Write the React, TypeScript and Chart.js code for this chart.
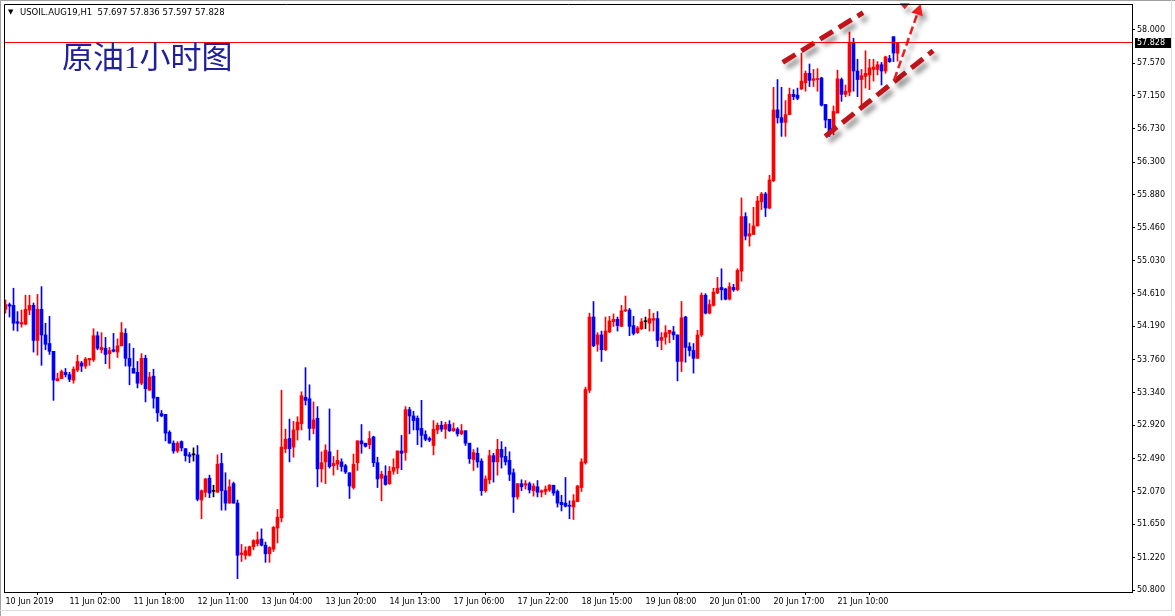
import React, { useEffect, useRef } from "react";
import { Chart, registerables } from "chart.js";
Chart.register(...registerables);

// ---- data (hourly candles USOIL.AUG19, H1) ----
const opens = [
  54.41, 54.47, 54.46, 54.25, 54.22, 54.22, 54.40, 54.46, 54.01, 54.41, 54.08, 53.97, 53.87, 53.49, 53.52, 53.60,
  53.57, 53.50, 53.63, 53.72, 53.68, 53.76, 53.76, 54.07, 53.89, 53.91, 53.84, 53.89, 53.86, 53.94, 54.10, 53.78,
  53.65, 53.60, 53.46, 53.78, 53.37, 53.55, 53.28, 53.07, 53.06, 52.83, 52.69, 52.59, 52.71, 52.62, 52.54, 52.54,
  52.54, 51.96, 52.06, 52.24, 52.07, 52.06, 52.43, 52.08, 51.92, 52.17, 51.92, 51.26, 51.25, 51.25, 51.36, 51.40,
  51.46, 51.38, 51.27, 51.33, 51.60, 51.73, 52.62, 52.75, 52.64, 52.86, 52.94, 53.28, 53.26, 52.88, 53.01, 52.36,
  52.45, 52.58, 52.40, 52.42, 52.45, 52.40, 52.31, 52.12, 52.44, 52.72, 52.69, 52.67, 52.77, 52.44, 52.24, 52.27,
  52.17, 52.33, 52.37, 52.59, 52.57, 53.12, 53.04, 53.01, 52.88, 52.80, 52.75, 52.66, 52.86, 52.92, 52.87, 52.93,
  52.85, 52.87, 52.81, 52.85, 52.69, 52.48, 52.56, 52.46, 52.08, 52.22, 52.53, 52.45, 52.61, 52.52, 52.47, 52.31,
  52.00, 52.17, 52.15, 52.17, 52.08, 52.13, 52.06, 52.07, 52.09, 52.15, 52.07, 51.93, 51.92, 51.89, 51.87, 51.94,
  52.12, 52.44, 53.37, 54.31, 53.96, 54.08, 53.89, 54.12, 54.25, 54.28, 54.19, 54.39, 54.40, 54.20, 54.11, 54.16,
  54.25, 54.23, 54.27, 54.29, 54.01, 54.05, 54.10, 54.12, 54.08, 53.74, 54.31, 53.93, 53.88, 53.78, 54.08, 54.59,
  54.36, 54.46, 54.62, 54.69, 54.67, 54.54, 54.69, 54.66, 54.90, 55.60, 55.35, 55.37, 55.48, 55.79, 55.89, 55.71,
  56.06, 56.97, 56.87, 56.81, 56.91, 57.17, 57.16, 57.24, 57.32, 57.44, 57.35, 57.36, 57.38, 57.04, 56.85, 56.69,
  56.93, 57.36, 57.17, 57.20, 57.84, 57.47, 57.36, 57.40, 57.42, 57.49, 57.49, 57.55, 57.47, 57.63, 57.91, 57.697,
];
const highs = [
  54.53, 54.49, 54.68, 54.38, 54.40, 54.59, 54.59, 54.49, 54.60, 54.70, 54.23, 54.32, 53.87, 53.59, 53.63, 53.65,
  53.60, 53.67, 53.82, 53.74, 53.79, 53.78, 54.16, 54.12, 54.11, 54.05, 53.92, 54.10, 54.03, 54.24, 54.16, 53.97,
  53.91, 53.74, 53.84, 53.82, 53.60, 53.64, 53.28, 53.11, 53.06, 52.85, 52.72, 52.71, 52.72, 52.62, 52.57, 52.63,
  52.66, 52.09, 52.24, 52.28, 52.15, 52.54, 52.56, 52.31, 52.22, 52.19, 51.96, 51.39, 51.36, 51.37, 51.45, 51.55,
  51.59, 51.42, 51.36, 51.62, 51.84, 53.37, 52.87, 53.00, 52.97, 53.03, 53.35, 53.66, 53.44, 53.22, 53.16, 52.58,
  52.67, 53.13, 52.52, 52.60, 52.49, 52.42, 52.31, 52.55, 52.72, 52.93, 52.69, 52.84, 52.78, 52.51, 52.33, 52.40,
  52.39, 52.49, 52.59, 52.79, 53.16, 53.15, 53.10, 53.04, 53.24, 52.85, 52.77, 52.98, 52.95, 52.97, 52.96, 52.98,
  52.95, 52.89, 52.93, 52.85, 52.69, 52.61, 52.63, 52.49, 52.27, 52.60, 52.56, 52.74, 52.71, 52.64, 52.58, 52.36,
  52.17, 52.22, 52.21, 52.19, 52.17, 52.21, 52.09, 52.14, 52.16, 52.15, 52.09, 52.02, 52.25, 51.95, 52.03, 52.15,
  52.49, 53.41, 54.36, 54.51, 54.11, 54.13, 54.31, 54.32, 54.35, 54.31, 54.46, 54.58, 54.42, 54.32, 54.19, 54.29,
  54.31, 54.41, 54.36, 54.38, 54.11, 54.20, 54.14, 54.19, 54.08, 54.51, 54.32, 53.98, 53.97, 54.14, 54.62, 54.61,
  54.53, 54.68, 54.82, 54.93, 54.68, 54.75, 54.73, 54.93, 55.84, 55.65, 55.51, 55.72, 55.86, 55.91, 55.91, 56.13,
  57.26, 57.36, 57.26, 57.09, 57.25, 57.23, 57.25, 57.70, 57.47, 57.56, 57.49, 57.50, 57.39, 57.04, 56.85, 57.02,
  57.48, 57.38, 57.29, 57.97, 57.89, 57.62, 57.49, 57.73, 57.62, 57.62, 57.59, 57.58, 57.66, 57.67, 57.91, 57.836,
];
const lows = [
  54.36, 54.31, 54.14, 54.13, 54.18, 54.21, 54.34, 53.86, 53.82, 53.69, 53.89, 53.83, 53.24, 53.49, 53.52, 53.54,
  53.48, 53.46, 53.61, 53.61, 53.65, 53.69, 53.74, 53.89, 53.85, 53.71, 53.65, 53.86, 53.79, 53.94, 53.68, 53.44,
  53.59, 53.40, 53.44, 53.22, 53.37, 53.14, 52.97, 53.03, 52.72, 52.69, 52.56, 52.57, 52.59, 52.46, 52.44, 52.46,
  51.95, 51.72, 52.00, 51.99, 52.00, 52.06, 51.83, 51.83, 51.92, 51.92, 50.95, 51.17, 51.20, 51.24, 51.32, 51.37,
  51.37, 51.16, 51.16, 51.30, 51.41, 51.68, 52.57, 52.45, 52.51, 52.73, 52.86, 53.18, 52.73, 52.81, 52.13, 52.19,
  52.17, 52.37, 52.28, 52.35, 52.33, 52.30, 51.98, 52.10, 52.34, 52.56, 52.64, 52.62, 52.39, 52.12, 51.95, 52.15,
  52.16, 52.29, 52.30, 52.35, 52.47, 52.81, 52.86, 52.67, 52.64, 52.72, 52.71, 52.54, 52.81, 52.84, 52.75, 52.84,
  52.84, 52.78, 52.80, 52.66, 52.43, 52.34, 52.38, 52.02, 52.06, 52.17, 52.19, 52.28, 52.37, 52.41, 52.21, 51.80,
  51.97, 52.08, 52.10, 52.05, 52.01, 52.00, 52.00, 52.03, 52.07, 52.02, 51.87, 51.82, 51.87, 51.72, 51.71, 51.94,
  52.07, 52.42, 53.34, 53.93, 53.87, 53.74, 53.88, 54.11, 54.19, 54.13, 54.19, 54.38, 54.07, 54.08, 54.10, 54.15,
  54.16, 54.13, 54.13, 53.93, 53.89, 53.96, 53.98, 54.02, 53.49, 53.61, 53.73, 53.81, 53.59, 53.78, 54.06, 54.35,
  54.35, 54.45, 54.61, 54.53, 54.53, 54.53, 54.64, 54.65, 54.77, 55.30, 55.22, 55.37, 55.48, 55.69, 55.60, 55.70,
  56.05, 56.80, 56.63, 56.63, 56.91, 57.10, 57.10, 57.23, 57.21, 57.27, 57.27, 57.21, 57.02, 56.74, 56.63, 56.65,
  56.93, 57.08, 57.14, 57.15, 57.21, 57.14, 57.02, 57.25, 57.23, 57.34, 57.42, 57.29, 57.44, 57.58, 57.59, 57.597,
];
const closes = [
  54.47, 54.45, 54.23, 54.23, 54.24, 54.41, 54.46, 54.01, 54.41, 54.08, 53.96, 53.87, 53.50, 53.52, 53.61, 53.57,
  53.51, 53.64, 53.74, 53.68, 53.77, 53.78, 54.07, 53.91, 53.92, 53.83, 53.88, 53.87, 53.94, 54.11, 53.78, 53.68,
  53.59, 53.46, 53.78, 53.39, 53.54, 53.27, 53.08, 53.04, 52.82, 52.69, 52.59, 52.69, 52.63, 52.53, 52.52, 52.54,
  51.97, 52.08, 52.23, 52.05, 52.07, 52.42, 52.08, 51.92, 52.13, 51.92, 51.25, 51.28, 51.31, 51.36, 51.44, 51.45,
  51.38, 51.27, 51.35, 51.61, 51.74, 52.64, 52.74, 52.62, 52.86, 52.96, 53.30, 53.24, 52.88, 52.99, 52.36, 52.44,
  52.60, 52.39, 52.43, 52.47, 52.39, 52.32, 52.14, 52.42, 52.72, 52.68, 52.65, 52.75, 52.44, 52.23, 52.29, 52.16,
  52.33, 52.38, 52.59, 52.56, 53.12, 53.04, 52.98, 52.86, 52.79, 52.74, 52.73, 52.87, 52.92, 52.87, 52.93, 52.85,
  52.88, 52.81, 52.85, 52.69, 52.49, 52.57, 52.45, 52.08, 52.23, 52.53, 52.45, 52.61, 52.51, 52.45, 52.29, 52.00,
  52.17, 52.13, 52.17, 52.09, 52.14, 52.06, 52.08, 52.10, 52.15, 52.05, 51.92, 51.90, 51.88, 51.88, 51.95, 52.14,
  52.45, 53.38, 54.31, 53.94, 54.08, 53.89, 54.13, 54.26, 54.28, 54.20, 54.39, 54.40, 54.19, 54.10, 54.17, 54.25,
  54.25, 54.29, 54.29, 54.01, 54.05, 54.11, 54.14, 54.08, 53.74, 54.30, 53.92, 53.88, 53.78, 54.08, 54.59, 54.36,
  54.47, 54.63, 54.68, 54.66, 54.54, 54.70, 54.66, 54.91, 55.60, 55.35, 55.38, 55.48, 55.80, 55.89, 55.71, 56.07,
  56.97, 56.87, 56.81, 56.91, 57.17, 57.14, 57.12, 57.34, 57.44, 57.35, 57.37, 57.37, 57.03, 56.84, 56.69, 56.95,
  57.37, 57.17, 57.21, 57.84, 57.47, 57.36, 57.41, 57.44, 57.51, 57.52, 57.55, 57.47, 57.65, 57.59, 57.70, 57.828,
];

const yTicks = [58.0, 57.57, 57.15, 56.73, 56.3, 55.88, 55.46, 55.03, 54.61, 54.19, 53.76, 53.34, 52.92, 52.49, 52.07, 51.65, 51.22, 50.8];
const xTickIndex = [0, 16, 32, 48, 64, 80, 96, 112, 128, 144, 160, 176, 192, 208];
const xTickLabels = [
  "10 Jun 2019", "11 Jun 02:00", "11 Jun 18:00", "12 Jun 11:00", "13 Jun 04:00", "13 Jun 20:00", "14 Jun 13:00",
  "17 Jun 06:00", "17 Jun 22:00", "18 Jun 15:00", "19 Jun 08:00", "20 Jun 01:00", "20 Jun 17:00", "21 Jun 10:00",
];
const currentPrice = 57.828;
const headerText = "USOIL.AUG19,H1  57.697 57.836 57.597 57.828";
const titleText = "原油1小时图";

// hand-drawn annotations (bar index, price)
const upperChannel = [{ x: 194.3, y: 57.58 }, { x: 214.4, y: 58.22 }];
const lowerChannel = [{ x: 204.9, y: 56.63 }, { x: 231.9, y: 57.73 }];
const arrowLine = [{ x: 222.2, y: 57.36 }, { x: 228.8, y: 58.33 }];
const topMarker = { x: 224.8, y: 58.3 };

const UP = "#ff0000";
const DOWN = "#0000ff";
const DOJI = "#000000";

function candleColor(i: number) {
  if (closes[i] > opens[i]) return UP;
  if (closes[i] < opens[i]) return DOWN;
  return DOJI;
}

const decorPlugin = {
  id: "decor",
  beforeDraw(chart: any) {
    const { ctx, width, height } = chart;
    ctx.save();
    ctx.fillStyle = "#ffffff";
    ctx.fillRect(0, 0, width, height);
    ctx.restore();
  },
  afterDatasetsDraw(chart: any) {
    const { ctx, scales } = chart;
    const xs = scales.x;
    const ys = scales.y;
    const px = (p: { x: number; y: number }) => [xs.getPixelForValue(p.x), ys.getPixelForValue(p.y)];

    // channel lines
    const drawChannel = (pts: { x: number; y: number }[]) => {
      const [x1, y1] = px(pts[0]);
      const [x2, y2] = px(pts[1]);
      ctx.save();
      ctx.shadowColor = "rgba(0,0,0,0.45)";
      ctx.shadowBlur = 5;
      ctx.shadowOffsetX = 4;
      ctx.shadowOffsetY = 5;
      ctx.strokeStyle = "#c0141a";
      ctx.lineWidth = 5;
      ctx.setLineDash([15, 7]);
      ctx.beginPath();
      ctx.moveTo(x1, y1);
      ctx.lineTo(x2, y2);
      ctx.stroke();
      ctx.restore();
    };
    drawChannel(upperChannel);
    drawChannel(lowerChannel);

    // dashed arrow
    const [ax1, ay1] = px(arrowLine[0]);
    const [ax2, ay2] = px(arrowLine[1]);
    const ang = Math.atan2(ay2 - ay1, ax2 - ax1);
    const headLen = 11;
    const bx = ax2 - Math.cos(ang) * headLen;
    const by = ay2 - Math.sin(ang) * headLen;
    ctx.save();
    ctx.shadowColor = "rgba(0,0,0,0.4)";
    ctx.shadowBlur = 5;
    ctx.shadowOffsetX = 4;
    ctx.shadowOffsetY = 5;
    ctx.strokeStyle = "#ee1c1c";
    ctx.lineWidth = 2.5;
    ctx.setLineDash([8, 4]);
    ctx.beginPath();
    ctx.moveTo(ax1, ay1);
    ctx.lineTo(bx, by);
    ctx.stroke();
    ctx.setLineDash([]);
    ctx.fillStyle = "#ee1c1c";
    ctx.beginPath();
    ctx.moveTo(ax2, ay2);
    ctx.lineTo(bx + Math.cos(ang + Math.PI / 2) * 6, by + Math.sin(ang + Math.PI / 2) * 6);
    ctx.lineTo(bx + Math.cos(ang - Math.PI / 2) * 6, by + Math.sin(ang - Math.PI / 2) * 6);
    ctx.closePath();
    ctx.fill();
    // small marker triangle at the top edge
    const [mx, my] = px(topMarker);
    ctx.beginPath();
    ctx.moveTo(mx - 5, my - 3);
    ctx.lineTo(mx + 5, my - 3);
    ctx.lineTo(mx, my + 3);
    ctx.closePath();
    ctx.fill();
    ctx.restore();
  },
  afterDraw(chart: any) {
    const { ctx, chartArea, scales, width, height } = chart;
    const ys = scales.y;
    ctx.save();
    ctx.shadowColor = "rgba(0,0,0,0)";
    ctx.shadowBlur = 0;
    ctx.setLineDash([]);
    // current price line (red, 1px)
    const yl = Math.floor(ys.getPixelForValue(currentPrice) - 0.5);
    ctx.fillStyle = "#ff0000";
    ctx.fillRect(chartArea.left + 1, yl, chartArea.right - chartArea.left - 1, 1);
    // plot frame top / left
    ctx.strokeStyle = "#000000";
    ctx.lineWidth = 1;
    ctx.beginPath();
    ctx.moveTo(chartArea.left + 0.5, chartArea.bottom);
    ctx.lineTo(chartArea.left + 0.5, chartArea.top + 0.5);
    ctx.lineTo(chartArea.right + 0.5, chartArea.top + 0.5);
    ctx.stroke();
    // outer window frame
    ctx.strokeStyle = "#a0a0a0";
    ctx.beginPath();
    ctx.moveTo(0.5, height);
    ctx.lineTo(0.5, 0.5);
    ctx.lineTo(width, 0.5);
    ctx.stroke();
    ctx.strokeStyle = "#dcdcdc";
    ctx.beginPath();
    ctx.moveTo(1171.5, 0);
    ctx.lineTo(1171.5, 610.5);
    ctx.lineTo(0, 610.5);
    ctx.stroke();
    // current price tag
    ctx.fillStyle = "#000000";
    ctx.fillRect(chartArea.right + 3, yl - 4, 36, 10);
    ctx.fillStyle = "#ffffff";
    ctx.font = "8px 'DejaVu Sans'";
    ctx.textBaseline = "middle";
    ctx.textAlign = "left";
    ctx.fillText(currentPrice.toFixed(3), chartArea.right + 5, yl + 1);
    ctx.restore();
  },
};

export default function App() {
  const canvasRef = useRef<HTMLCanvasElement | null>(null);

  useEffect(() => {
    if (!canvasRef.current) return;
    const idx = opens.map((_, i) => i);
    const wickData = idx.map((i) => ({ x: i, y: [lows[i], highs[i]] }));
    const bodyData = idx.map((i) => ({ x: i, y: [opens[i], closes[i]] }));
    const tickFont = { family: "'DejaVu Sans', sans-serif", size: 8 };

    const chart = new Chart(canvasRef.current, {
      type: "bar",
      data: {
        datasets: [
          {
            label: "wick",
            data: wickData as any,
            backgroundColor: (c: any) => candleColor(c.dataIndex),
            barThickness: 1,
            grouped: false,
            order: 2,
          } as any,
          {
            label: "body",
            data: bodyData as any,
            backgroundColor: (c: any) => candleColor(c.dataIndex),
            barThickness: 3,
            minBarLength: 1,
            grouped: false,
            order: 1,
          } as any,
        ],
      },
      options: {
        responsive: false,
        animation: false,
        layout: { padding: { left: 4, top: 4, right: 0, bottom: 0 } },
        plugins: { legend: { display: false }, tooltip: { enabled: false }, title: { display: false } },
        scales: {
          x: {
            type: "linear",
            position: "bottom",
            min: -0.375,
            max: 281.625,
            offset: false,
            grid: { drawOnChartArea: false, drawTicks: true, tickLength: 3, color: "#000000", tickColor: "#000000" },
            border: { display: true, color: "#000000", width: 1 },
            ticks: {
              autoSkip: false,
              maxRotation: 0,
              minRotation: 0,
              align: "start",
              padding: 2,
              color: "#000000",
              font: tickFont,
              callback: (v: any) => {
                const k = xTickIndex.indexOf(Number(v));
                return k >= 0 ? xTickLabels[k] : "";
              },
            },
            afterBuildTicks: (s: any) => {
              s.ticks = xTickIndex.map((v) => ({ value: v }));
            },
            afterFit: (s: any) => {
              s.height = 24;
              s.paddingLeft = 0;
              s.paddingRight = 0;
              s.paddingTop = 0;
              s.paddingBottom = 0;
            },
          } as any,
          y: {
            type: "linear",
            position: "right",
            min: 50.779,
            max: 58.33,
            grid: { drawOnChartArea: false, drawTicks: true, tickLength: 3, color: "#000000", tickColor: "#000000" },
            border: { display: true, color: "#000000", width: 1 },
            ticks: {
              padding: 2,
              color: "#000000",
              font: tickFont,
              callback: (v: any) => Number(v).toFixed(3),
            },
            afterBuildTicks: (s: any) => {
              s.ticks = yTicks.map((v) => ({ value: v }));
            },
            afterFit: (s: any) => {
              s.width = 43;
              s.paddingLeft = 0;
              s.paddingRight = 0;
              s.paddingTop = 0;
              s.paddingBottom = 0;
            },
          } as any,
        },
      },
      plugins: [decorPlugin],
    });
    return () => chart.destroy();
  }, []);

  return (
    <div style={{ position: "fixed", left: 0, top: 0, width: 1175, height: 616, background: "#ffffff", overflow: "hidden" }}>
      <canvas ref={canvasRef} width={1175} height={616} style={{ position: "absolute", left: 0, top: 0, width: 1175, height: 616 }} />
      <div
        style={{
          position: "absolute",
          left: 8,
          top: 6,
          fontFamily: "'DejaVu Sans', sans-serif",
          fontSize: 7,
          lineHeight: "12px",
          color: "#000000",
        }}
      >
        ▼
      </div>
      <div
        style={{
          position: "absolute",
          left: 20,
          top: 6,
          fontFamily: "'DejaVu Sans', sans-serif",
          fontSize: 8.5,
          lineHeight: "12px",
          color: "#000000",
          whiteSpace: "pre",
        }}
      >
        {headerText}
      </div>
      <div
        style={{
          position: "absolute",
          left: 62,
          top: 41,
          fontFamily: "'Liberation Serif', 'Noto Sans CJK SC', serif",
          fontSize: 31,
          lineHeight: "33px",
          color: "#20209c",
          whiteSpace: "pre",
        }}
      >
        {titleText}
      </div>
    </div>
  );
}
